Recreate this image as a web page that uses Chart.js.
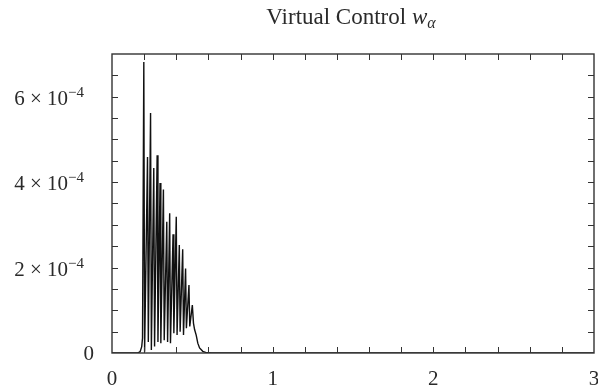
<!DOCTYPE html>
<html>
<head>
<meta charset="utf-8">
<script src="https://cdn.jsdelivr.net/npm/chart.js@4.4.1/dist/chart.umd.min.js"></script>
<style>
  html, body { margin: 0; padding: 0; background: #fff; }
  #wrap { width: 598px; height: 389px; position: relative; }
</style>
</head>
<body>
<div id="wrap"><canvas id="chart"></canvas></div>
<script>
// time axis (s) and virtual control w_alpha
const time = [0, 0.16, 0.175, 0.185, 0.19,
    0.198, 0.203, 0.221, 0.226, 0.240, 0.245, 0.260, 0.265, 0.281, 0.286,
    0.299, 0.304, 0.320, 0.325, 0.341, 0.346, 0.359, 0.364, 0.380, 0.385,
    0.400, 0.405, 0.419, 0.424, 0.440, 0.445, 0.458, 0.463, 0.479, 0.484,
    0.500, 0.507, 0.514, 0.524, 0.534, 0.545, 0.565, 0.59, 0.62, 3];
const wAlpha = [0, 0, 0.03e-4, 0.15e-4, 0.35e-4,
    6.81e-4, 0.03e-4, 4.59e-4, 0.26e-4, 5.62e-4, 0.07e-4, 4.33e-4, 0.15e-4, 4.63e-4, 0.26e-4,
    3.98e-4, 0.23e-4, 3.83e-4, 0.30e-4, 3.07e-4, 0.26e-4, 3.27e-4, 0.23e-4, 2.78e-4, 0.46e-4,
    3.19e-4, 0.42e-4, 2.53e-4, 0.50e-4, 2.43e-4, 0.42e-4, 1.98e-4, 0.58e-4, 1.59e-4, 0.62e-4,
    1.12e-4, 0.70e-4, 0.55e-4, 0.42e-4, 0.23e-4, 0.12e-4, 0.04e-4, 0.005e-4, 0, 0];

const xTicks = [0, 1, 2, 3];
const xTickLabels = ['0', '1', '2', '3'];
const yTicks = [0, 2e-4, 4e-4, 6e-4];
const yTickMantissa = ['0', '2', '4', '6'];
const yTickExp = '\u22124';
const xMinorStep = 0.2;
const yMinorStep = 0.5e-4;
const titleMain = 'Virtual Control ';

const serif = '"Liberation Serif", "DejaVu Serif", serif';

const framePlugin = {
    id: 'frame',
    afterDraw(chart) {
        const ctx = chart.ctx;
        const a = chart.chartArea;
        const xs = chart.scales.x, ys = chart.scales.y;
        ctx.save();
        // box
        ctx.strokeStyle = '#333';
        ctx.lineWidth = 1.4;
        ctx.strokeRect(a.left, a.top, a.right - a.left, a.bottom - a.top);
        // inward ticks
        ctx.lineWidth = 1;
        const tl = 6;
        ctx.beginPath();
        for (let v = xMinorStep; v < xs.max - 1e-9; v += xMinorStep) {
            const px = Math.round(xs.getPixelForValue(v)) + 0.5;
            ctx.moveTo(px, a.bottom); ctx.lineTo(px, a.bottom - tl);
            ctx.moveTo(px, a.top); ctx.lineTo(px, a.top + tl);
        }
        for (let v = yMinorStep; v < ys.max - 1e-12; v += yMinorStep) {
            const py = Math.round(ys.getPixelForValue(v)) + 0.5;
            ctx.moveTo(a.left, py); ctx.lineTo(a.left + tl, py);
            ctx.moveTo(a.right, py); ctx.lineTo(a.right - tl, py);
        }
        ctx.stroke();

        // tick labels
        ctx.fillStyle = '#2a2a2a';
        ctx.font = '21px ' + serif;
        ctx.textBaseline = 'alphabetic';
        ctx.textAlign = 'center';
        xTicks.forEach((v, i) => {
            ctx.fillText(xTickLabels[i], xs.getPixelForValue(v), a.bottom + 32);
        });
        yTicks.forEach((v, i) => {
            const py = ys.getPixelForValue(v);
            if (v === 0) {
                ctx.textAlign = 'right';
                ctx.font = '21px ' + serif;
                ctx.fillText(yTickMantissa[i], 94, py + 7);
                return;
            }
            ctx.font = '21px ' + serif;
            const main = yTickMantissa[i] + ' \u00d7 10';
            const wMain = ctx.measureText(main).width;
            ctx.font = '15px ' + serif;
            const wSup = ctx.measureText(yTickExp).width;
            const right = 84;
            ctx.textAlign = 'left';
            ctx.font = '21px ' + serif;
            ctx.fillText(main, right - wSup - wMain, py + 8);
            ctx.font = '15px ' + serif;
            ctx.fillText(yTickExp, right - wSup, py);
        });

        // title: Virtual Control w_alpha
        ctx.font = '23px ' + serif;
        const w1 = ctx.measureText(titleMain).width;
        ctx.font = 'italic 23px ' + serif;
        const w2 = ctx.measureText('w').width;
        ctx.font = 'italic 16px ' + serif;
        const w3 = ctx.measureText('\u03b1').width;
        const cx = (a.left + a.right) / 2;
        let x0 = cx - (w1 + w2 + w3) / 2 - 2;
        ctx.textAlign = 'left';
        ctx.font = '23px ' + serif;
        ctx.fillText(titleMain, x0, 24);
        ctx.font = 'italic 23px ' + serif;
        ctx.fillText('w', x0 + w1, 24);
        ctx.font = 'italic 16px ' + serif;
        ctx.fillText('\u03b1', x0 + w1 + w2, 28);
        ctx.restore();
    }
};

new Chart(document.getElementById('chart').getContext('2d'), {
    type: 'line',
    data: {
        datasets: [{
            data: time.map((t, i) => ({ x: t, y: wAlpha[i] })),
            borderColor: '#111',
            borderWidth: 1.4,
            pointRadius: 0,
            tension: 0,
            fill: false
        }]
    },
    options: {
        responsive: true,
        maintainAspectRatio: false,
        animation: false,
        layout: { padding: { left: 112, right: 4, top: 54, bottom: 36 } },
        plugins: { legend: { display: false }, tooltip: { enabled: false } },
        scales: {
            x: { type: 'linear', min: 0, max: 3, display: false },
            y: { type: 'linear', min: 0, max: 7e-4, display: false }
        }
    },
    plugins: [framePlugin]
});
</script>
</body>
</html>
